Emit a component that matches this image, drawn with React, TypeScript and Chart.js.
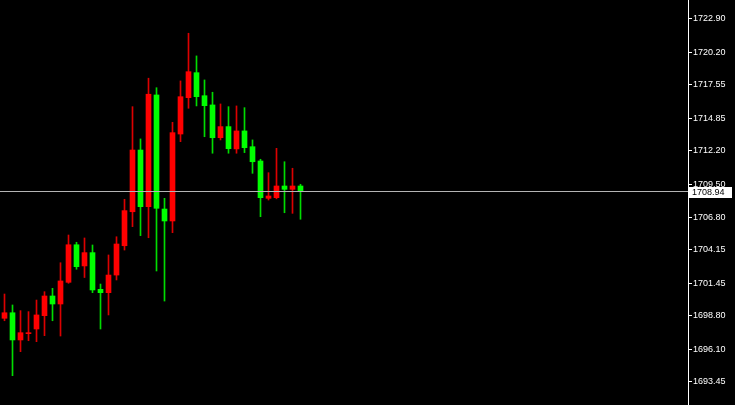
import React, { useEffect, useRef } from 'react';
import { Chart, registerables } from 'chart.js';

Chart.register(...registerables);

// OHLC values (38 candles)
const opens = [
  1698.60, 1699.05, 1696.84, 1697.35, 1697.73, 1698.81, 1700.41, 1699.76, 1701.52, 1704.57,
  1702.85, 1703.93, 1700.95, 1700.68, 1702.11, 1704.49, 1707.25, 1712.26, 1707.66, 1716.73,
  1707.47, 1706.50, 1713.56, 1716.51, 1718.54, 1716.67, 1715.92, 1713.26, 1714.16, 1712.35,
  1713.81, 1712.53, 1711.37, 1708.34, 1708.39, 1709.34, 1709.07, 1709.34,
];
const highs = [
  1700.57, 1699.68, 1699.22, 1699.14, 1700.08, 1700.76, 1701.03, 1703.11, 1705.36, 1704.77,
  1705.12, 1704.55, 1701.38, 1703.74, 1705.22, 1708.26, 1715.78, 1713.16, 1718.09, 1717.32,
  1708.34, 1714.51, 1717.87, 1721.74, 1719.90, 1717.95, 1716.95, 1716.00, 1715.78, 1715.84,
  1715.70, 1713.08, 1711.51, 1710.42, 1712.40, 1711.31, 1710.78, 1709.48,
];
const lows = [
  1698.40, 1693.94, 1695.89, 1696.78, 1696.70, 1697.19, 1698.40, 1697.16, 1701.44, 1702.58,
  1701.91, 1700.68, 1697.73, 1698.87, 1701.71, 1704.14, 1706.04, 1705.31, 1705.14, 1702.44,
  1700.00, 1705.55, 1712.94, 1715.65, 1715.84, 1713.34, 1712.00, 1713.08, 1712.00, 1712.00,
  1712.05, 1710.37, 1706.85, 1708.20, 1708.30, 1707.17, 1707.12, 1706.64,
];
const closes = [
  1699.05, 1696.84, 1697.43, 1697.41, 1698.87, 1700.41, 1699.76, 1701.63, 1704.57, 1702.79,
  1703.93, 1700.90, 1700.68, 1702.11, 1704.63, 1707.34, 1712.26, 1707.66, 1716.79, 1707.53,
  1706.50, 1713.67, 1716.59, 1718.62, 1716.59, 1715.86, 1713.26, 1714.16, 1712.37, 1713.81,
  1712.45, 1711.31, 1708.39, 1708.53, 1709.34, 1709.07, 1709.34, 1708.94,
];
const yTicks = [
  1722.90, 1720.20, 1717.55, 1714.85, 1712.20, 1709.50,
  1706.80, 1704.15, 1701.45, 1698.80, 1696.10, 1693.45,
];
const currentPrice = 1708.94;

const BULL = '#ff0000';
const BEAR = '#00ff00';
const BULL_WICK = '#dc0000';
const BEAR_WICK = '#00dc00';
const FONT = 'Liberation Sans';

export default function App() {
  const ref = useRef<HTMLCanvasElement>(null);

  useEffect(() => {
    document.body.style.margin = '0';
    const idx = opens.map((_, i) => i);
    const isBull = idx.map((i) => closes[i] >= opens[i]);

    const bgPlugin = {
      id: 'bg',
      beforeDraw(chart: any) {
        const c = chart.ctx;
        c.save();
        c.fillStyle = '#000000';
        c.fillRect(0, 0, chart.width, chart.height);
        c.restore();
      },
    };

    const pricePlugin = {
      id: 'priceLine',
      afterDatasetsDraw(chart: any) {
        const c = chart.ctx;
        const y = Math.round(chart.scales.y.getPixelForValue(currentPrice)) + 0.5;
        c.save();
        c.strokeStyle = '#b4b4b4';
        c.lineWidth = 1;
        c.beginPath();
        c.moveTo(0, y);
        c.lineTo(chart.chartArea.right, y);
        c.stroke();
        c.restore();
      },
      afterDraw(chart: any) {
        const c = chart.ctx;
        const y = chart.scales.y.getPixelForValue(currentPrice);
        const left = chart.chartArea.right + 1;
        c.save();
        c.fillStyle = '#ffffff';
        c.fillRect(left, Math.round(y) - 4, 43, 11);
        c.fillStyle = '#000000';
        c.font = `9px "${FONT}"`;
        c.textBaseline = 'middle';
        c.textAlign = 'left';
        c.fillText(currentPrice.toFixed(2), left + 3, Math.round(y) + 1.5);
        c.restore();
      },
    };

    const chart = new Chart(ref.current as HTMLCanvasElement, {
      type: 'bar',
      data: {
        datasets: [
          {
            label: 'wick',
            data: idx.map((i) => ({ x: i, y: [lows[i], highs[i]] })) as any,
            backgroundColor: idx.map((i) => (isBull[i] ? BULL_WICK : BEAR_WICK)),
            barThickness: 1,
            grouped: false,
            borderWidth: 0,
            order: 2,
          } as any,
          {
            label: 'body',
            data: idx.map((i) => ({ x: i, y: [opens[i], closes[i]] })) as any,
            backgroundColor: idx.map((i) => (isBull[i] ? BULL : BEAR)),
            barThickness: 5,
            grouped: false,
            borderWidth: 0,
            minBarLength: 1,
            order: 1,
          } as any,
        ],
      },
      options: {
        animation: false,
        responsive: false,
        maintainAspectRatio: false,
        layout: { padding: 0 },
        events: [],
        plugins: {
          legend: { display: false },
          tooltip: { enabled: false },
        },
        scales: {
          x: {
            type: 'linear',
            min: -0.5625,
            max: 85.4375,
            offset: false,
            bounds: 'data',
            display: false,
          },
          y: {
            position: 'right',
            min: 1691.56,
            max: 1724.44,
            afterFit: (s: any) => {
              s.width = 47;
              s.paddingTop = 0;
              s.paddingBottom = 0;
            },
            afterBuildTicks: (s: any) => {
              s.ticks = yTicks.map((v) => ({ value: v }));
            },
            ticks: {
              autoSkip: false,
              color: '#ffffff',
              padding: 1,
              font: { family: FONT, size: 9 },
              callback: (v: any) => Number(v).toFixed(2),
            },
            grid: {
              display: true,
              drawOnChartArea: false,
              drawTicks: true,
              tickLength: 4,
              color: '#ffffff',
            },
            border: { display: true, color: '#ffffff' },
          },
        },
      } as any,
      plugins: [bgPlugin, pricePlugin],
    });

    return () => chart.destroy();
  }, []);

  return (
    <div style={{ position: 'fixed', left: 0, top: 0, width: 735, height: 405, background: '#000' }}>
      <canvas ref={ref} width={735} height={405} style={{ display: 'block' }} />
    </div>
  );
}
